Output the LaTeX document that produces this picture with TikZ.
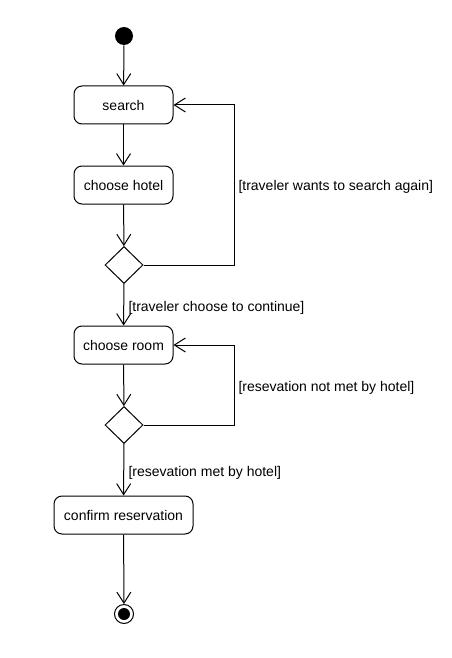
\documentclass[tikz,border=0pt]{standalone}
\usepackage{fontspec}
\setmainfont{Liberation Sans}
\usetikzlibrary{arrows.meta,shapes.geometric}
\begin{document}
\begin{tikzpicture}[x=1pt,y=-1pt,
  font=\fontsize{14}{16}\selectfont,
  every path/.style={line width=1pt},
  act/.style={draw,rounded corners=8pt,minimum width=99pt,minimum height=38pt,inner sep=0pt,line width=1pt},
  dec/.style={draw,diamond,minimum width=38pt,minimum height=37pt,inner sep=0pt,line width=1pt},
  arr/.style={-{Straight Barb[length=11pt,width=14pt,line width=1pt]},line width=1pt},
  guard/.style={anchor=west,inner sep=0pt}]
\useasboundingbox (0,0) rectangle (451,658);
\fill[white] (0,0) rectangle (451,658);
\node[circle,fill=black,minimum size=18pt,inner sep=0pt] (start) at (124,36) {};
\node[act] (search) at (123.5,105) {search};
\node[act] (hotel) at (123.5,185) {choose hotel};
\node[dec] (d1) at (124,265) {};
\node[act] (room) at (123.5,345) {choose room};
\node[dec] (d2) at (124,425) {};
\node[act,minimum width=139pt] (confirm) at (123.5,515) {confirm reservation};
\node[circle,draw,minimum size=19pt,inner sep=0pt,line width=1pt] (end) at (124,614) {};
\fill (end.center) circle (6pt);
\coordinate (c1) at (234,105);
\coordinate (c2) at (234,345);
\draw[arr] (start) -- (search);
\draw[arr] (search) -- (hotel);
\draw[arr] (hotel) -- (d1);
\draw[arr] (d1) -- (room);
\draw[arr] (d1.east) -| (c1) -- (search.east);
\draw[arr] (room) -- (d2);
\draw[arr] (d2.east) -| (c2) -- (room.east);
\draw[arr] (d2) -- (confirm);
\draw[arr] (confirm) -- (end);
\node[guard] (g1) at (238,187) {[traveler wants to search again]};
\node[guard] (g2) at (128,308) {[traveler choose to continue]};
\node[guard] (g3) at (238,388) {[resevation not met by hotel]};
\node[guard] (g4) at (128,473) {[resevation met by hotel]};
\end{tikzpicture}
\end{document}
